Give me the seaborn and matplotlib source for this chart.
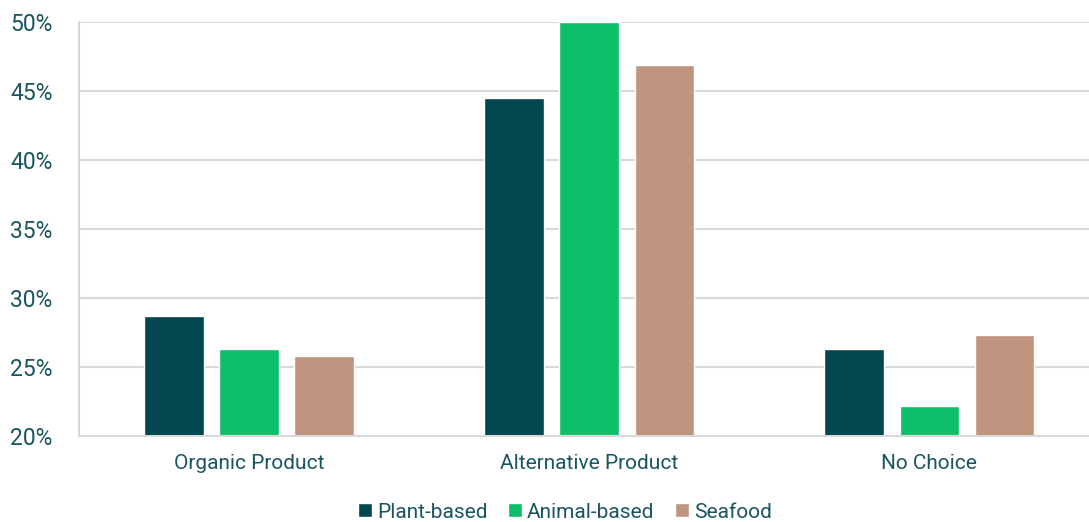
import matplotlib
matplotlib.use("Agg")
import matplotlib.pyplot as plt
import seaborn as sns
import pandas as pd
from matplotlib.ticker import FuncFormatter

categories = ["Organic Product", "Alternative Product", "No Choice"]
series = ["Plant-based", "Animal-based", "Seafood"]
plant_based = [28.7, 44.5, 26.3]
animal_based = [26.3, 50.0, 22.2]
seafood = [25.8, 46.9, 27.3]
colors = ["#02464f", "#0dbf6b", "#bf9580"]
text_color = "#1a5560"

rows = []
for name, vals in zip(series, [plant_based, animal_based, seafood]):
    for c, v in zip(categories, vals):
        rows.append({"Category": c, "Series": name, "Value": v})
df = pd.DataFrame(rows)

sns.set_theme(style="white")
plt.rcParams["font.family"] = ["Roboto", "DejaVu Sans"]

fig = plt.figure(figsize=(10.89, 5.22), dpi=100)
ax = fig.add_axes([79 / 1089, 1 - 436 / 522, (1089 - 79) / 1089, (436 - 22) / 522])
sns.barplot(data=df, x="Category", y="Value", hue="Series", palette=colors,
            width=0.662, gap=0.21, ax=ax, saturation=1, legend=True)

ax.set_ylim(20, 50)
ax.set_xlim(-0.5, 2.47)
ax.set_yticks([20, 25, 30, 35, 40, 45, 50])
ax.yaxis.set_major_formatter(FuncFormatter(lambda v, p: f"{int(v)}%"))
ax.grid(axis="y", color="#d9d9d9", linewidth=1.5)
ax.set_axisbelow(True)
for s in ["top", "right"]:
    ax.spines[s].set_visible(False)
for s in ["left", "bottom"]:
    ax.spines[s].set_color("#d9d9d9")
    ax.spines[s].set_linewidth(1.5)
ax.set_xlabel("")
ax.set_ylabel("")
ax.tick_params(axis="y", labelsize=16.5, labelcolor=text_color, length=0, pad=19)
ax.tick_params(axis="x", labelsize=15, labelcolor=text_color, length=0, pad=13)

handles, labels = ax.get_legend_handles_labels()
ax.legend_.remove()
fig.legend(handles, labels, loc="center", bbox_to_anchor=(565 / 1089, 1 - 512 / 522),
           ncol=3, frameon=False, fontsize=15, labelcolor=text_color,
           handlelength=0.65, handleheight=0.65, handletextpad=0.25, columnspacing=1.0)

fig.savefig("out.png", dpi=100)
